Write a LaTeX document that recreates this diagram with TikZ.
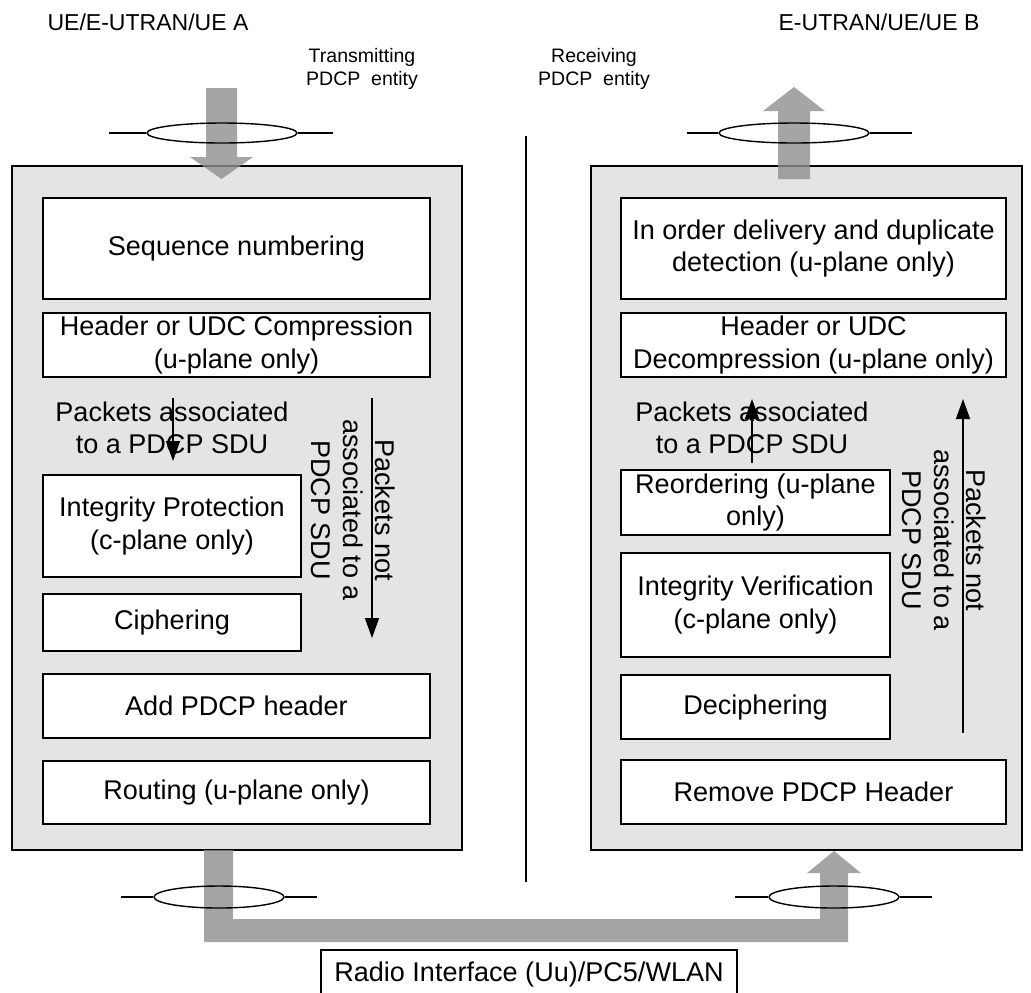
\documentclass[tikz,border=0pt]{standalone}
\usepackage{fontspec}
\setmainfont{Liberation Sans}
\usepackage{tikz}
\usetikzlibrary{arrows.meta,shapes.geometric}
\definecolor{entgrey}{HTML}{E4E4E4}
\definecolor{fatgrey}{HTML}{8E8E8E}
\newcommand{\bodysize}{\fontsize{15.4}{18.4}\selectfont}
\tikzset{
  entity/.style={draw, line width=1.1pt, fill=entgrey, inner sep=0pt},
  box/.style={draw, line width=0.8pt, fill=white, align=center, inner sep=0pt, font=\bodysize},
  plain/.style={align=center, inner sep=0pt, font=\bodysize},
  link/.style={draw, ellipse, line width=0.8pt, inner sep=0pt},
  fat/.style={fill=fatgrey, fill opacity=0.8},
  flow/.style={line width=0.8pt, -{Triangle[length=0.4cm, width=0.28cm]}}
}

\begin{document}
\begin{tikzpicture}[x=0.02cm, y=-0.02cm]
      \useasboundingbox (0, 0) rectangle (1031, 992);
      \clip (0, 0) rectangle (1031, 992);
      \node[font=\fontsize{13.1}{15}\selectfont] (sidea) at (148, 22) {UE/E-UTRAN/UE A};
      \node[font=\fontsize{13.1}{15}\selectfont] (sideb) at (879, 22) {E-UTRAN/UE/UE B};
      \node[align=center, inner sep=0pt, font=\fontsize{11.1}{13}\selectfont] (txlbl) at (362, 69) {Transmitting\\PDCP\ \ entity};
      \node[align=center, inner sep=0pt, font=\fontsize{11.1}{13}\selectfont] (rxlbl) at (594, 69) {Receiving\\PDCP\ \ entity};
      \coordinate (midtop) at (526, 136);
      \coordinate (midbot) at (526, 882);
      \draw[line width=1pt] (midtop) -- (midbot);
      \node[entity, minimum width=9cm, minimum height=13.68cm] (txent) at (237, 508) {};
      \node[entity, minimum width=8.62cm, minimum height=13.68cm] (rxent) at (806.5, 508) {};
      \node[box, minimum width=7.74cm, minimum height=2.02cm] (seqnum) at (236.5, 248.5) {Sequence numbering};
      \node[box, minimum width=7.74cm, minimum height=1.28cm] (hdrcomp) at (236.5, 345) {Header or UDC Compression\\(u-plane only)};
      \node[plain] (assoctx) at (172, 428) {Packets associated\\to a PDCP SDU};
      \node[box, minimum width=5.16cm, minimum height=2.04cm] (integ) at (172, 526) {Integrity Protection\\(c-plane only)};
      \node[box, minimum width=5.16cm, minimum height=1.14cm] (cipher) at (172, 622.5) {Ciphering};
      \node[box, minimum width=7.74cm, minimum height=1.28cm] (addhdr) at (236.5, 706) {Add PDCP header};
      \node[box, minimum width=7.74cm, minimum height=1.26cm] (routing) at (236.5, 792.5) {Routing (u-plane only)};
      \node[plain, rotate=-90] (notassoctx) at (353, 510) {Packets not\\associated to a\\PDCP SDU};
      \node[box, minimum width=7.7cm, minimum height=2.02cm] (inorder) at (813.5, 248.5) {In order delivery and duplicate\\detection (u-plane only)};
      \node[box, minimum width=7.7cm, minimum height=1.28cm] (hdrdecomp) at (813.5, 345) {Header or UDC\\Decompression (u-plane only)};
      \node[plain] (assocrx) at (752, 428) {Packets associated\\to a PDCP SDU};
      \node[box, minimum width=5.38cm, minimum height=1.3cm] (reorder) at (755.5, 502.5) {Reordering (u-plane\\only)};
      \node[box, minimum width=5.38cm, minimum height=2.08cm] (integver) at (755.5, 605) {Integrity Verification\\(c-plane only)};
      \node[box, minimum width=5.38cm, minimum height=1.28cm] (decipher) at (755.5, 707) {Deciphering};
      \node[box, minimum width=7.7cm, minimum height=1.28cm] (rmhdr) at (813.5, 792) {Remove PDCP Header};
      \node[plain, rotate=-90] (notassocrx) at (944, 540) {Packets not\\associated to a\\PDCP SDU};
      \coordinate (atx1) at (173, 398);
      \coordinate (atx2) at (173, 461);
      \coordinate (ntx1) at (372, 398);
      \coordinate (ntx2) at (372, 638);
      \coordinate (arx1) at (752, 463);
      \coordinate (arx2) at (752, 399);
      \coordinate (nrx1) at (963, 733);
      \coordinate (nrx2) at (963, 399);
      \draw[flow] (atx1) -- (atx2);
      \draw[flow] (ntx1) -- (ntx2);
      \draw[flow] (arx1) -- (arx2);
      \draw[flow] (nrx1) -- (nrx2);
      \fill[fat] (206, 88) -- (237, 88) -- (237, 157) -- (253, 157) -- (221.5, 179) -- (190, 157) -- (206, 157) -- cycle;
      \fill[fat] (778, 179) -- (810, 179) -- (810, 111) -- (825, 111) -- (794, 87) -- (763, 111) -- (778, 111) -- cycle;
      \fill[fat] (204, 850) -- (233, 850) -- (233, 919) -- (820, 919) -- (820, 873) -- (807, 873) -- (834, 851)
        -- (861, 873) -- (848, 873) -- (848, 942) -- (204, 942) -- cycle;
      \node[link, minimum width=3cm, minimum height=0.4cm] (linktx) at (222, 133) {};
      \node[link, minimum width=3cm, minimum height=0.4cm] (linkrx) at (794, 133) {};
      \node[link, minimum width=2.6cm, minimum height=0.44cm] (radiotx) at (219, 897) {};
      \node[link, minimum width=2.6cm, minimum height=0.44cm] (radiorx) at (834, 897) {};
      \draw[line width=0.8pt] (109, 133) -- (linktx.west) (linktx.east) -- (333, 133);
      \draw[line width=0.8pt] (687, 133) -- (linkrx.west) (linkrx.east) -- (912, 133);
      \draw[line width=0.8pt] (121, 897) -- (radiotx.west) (radiotx.east) -- (317, 897);
      \draw[line width=0.8pt] (735, 897) -- (radiorx.west) (radiorx.east) -- (932, 897);
      \node[box, minimum width=8.32cm, minimum height=0.96cm] (radio) at (529, 974) {Radio Interface (Uu)/PC5/WLAN};
    \end{tikzpicture}
\end{document}
